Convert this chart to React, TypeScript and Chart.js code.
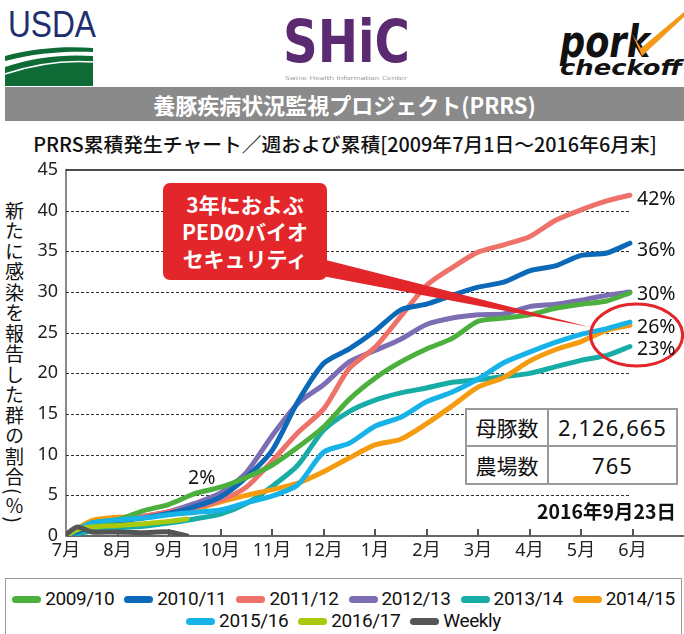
import React, { useEffect, useRef } from 'react';
import { Chart, registerables } from 'chart.js';

Chart.register(...registerables);

// ---------- data ----------
const monthLabels = ['7月', '8月', '9月', '10月', '11月', '12月', '1月', '2月', '3月', '4月', '5月', '6月'];
// x positions (in months since 1 July) of the sampled points
const seasonX = [0, 0.5, 1, 1.5, 2, 2.5, 3, 3.5, 4, 4.5, 5, 5.5, 6, 6.5, 7, 7.5, 8, 8.5, 9, 9.5, 10, 10.5, 10.95];
const partialX = [0, 0.22, 0.5, 1, 1.5, 2, 2.35];

const s2009_10 = [0, 1.6, 2.0, 3.1, 3.9, 5.2, 6.0, 7.2, 8.7, 10.9, 13.4, 16.8, 19.4, 21.4, 23.0, 24.3, 26.4, 26.8, 27.2, 28.0, 28.5, 28.9, 29.9];
const s2010_11 = [0, 1.2, 1.8, 2.2, 2.8, 3.6, 4.8, 7.2, 10.5, 16.5, 21.2, 23.0, 25.2, 27.8, 28.5, 29.6, 30.6, 31.2, 32.6, 33.2, 34.5, 34.8, 36.0];
const s2011_12 = [0, 1.4, 2.0, 2.4, 3.0, 3.5, 4.4, 6.0, 9.2, 12.7, 15.6, 20.6, 23.2, 27.0, 30.8, 33.0, 34.9, 35.8, 36.8, 38.8, 40.1, 41.2, 41.9];
const s2012_13 = [0, 1.2, 1.8, 2.4, 3.0, 4.0, 5.3, 7.8, 12.3, 16.3, 18.6, 21.4, 22.8, 24.2, 26.0, 26.8, 27.2, 27.3, 28.2, 28.5, 29.0, 29.6, 30.0];
const s2013_14 = [0, 0.6, 1.0, 1.2, 1.6, 2.1, 2.7, 4.0, 6.1, 8.7, 13.0, 15.3, 16.7, 17.6, 18.2, 18.9, 19.2, 19.6, 20.0, 20.8, 21.6, 22.2, 23.3];
const s2014_15 = [0, 1.9, 2.3, 2.4, 2.8, 3.3, 4.2, 5.0, 5.7, 6.5, 7.9, 9.6, 11.2, 11.9, 13.8, 16.0, 18.3, 19.5, 21.5, 22.9, 23.9, 25.3, 25.9];
const s2015_16 = [0, 1.6, 2.0, 2.2, 2.6, 2.9, 3.2, 4.1, 4.9, 6.3, 10.3, 11.4, 13.5, 14.6, 16.5, 17.7, 19.3, 21.3, 22.6, 23.8, 24.8, 25.5, 26.3];
const s2016_17 = [0, 0.8, 1.1, 1.3, 1.5, 1.8, 2.1];
const sWeekly = [0.2, 1.1, 0.5, 0.5, 0.4, 0.5, 0.0];

const seriesNames = ['2009/10', '2010/11', '2011/12', '2012/13', '2013/14', '2014/15', '2015/16', '2016/17', 'Weekly'];
const seriesValues = [s2009_10, s2010_11, s2011_12, s2012_13, s2013_14, s2014_15, s2015_16, s2016_17, sWeekly];
const seriesColors = ['#4CAF3E', '#0B69B7', '#EE726A', '#7D6EB4', '#18ACA6', '#F49B10', '#17B3E8', '#A8C90C', '#555555'];
const seriesOrder = [3, 4, 5, 6, 8, 7, 2, 1, 0];

const endLabels = ['42%', '36%', '30%', '26%', '23%'];
const endLabelTops = [186, 237, 281, 314, 336];
const tableRows = [['母豚数', '2,126,665'], ['農場数', '765']];
const calloutLines = ['3年におよぶ', 'PEDのバイオ', 'セキュリティ'];

const NUM_FONT = "'Noto Sans', 'Noto Sans CJK JP', sans-serif";
const JP_FONT = "'Noto Sans CJK JP', 'Noto Sans', sans-serif";
const NARROW_FONT = "'Liberation Sans Narrow', 'Roboto', 'Noto Sans', sans-serif";

const decor = {
  id: 'decor',
  beforeDatasetsDraw(chart: any) {
    const { ctx, chartArea: a, scales } = chart;
    const x = scales.x;
    const y = scales.y;
    ctx.save();
    // dashed horizontal grid
    ctx.strokeStyle = '#333';
    ctx.lineWidth = 1;
    ctx.setLineDash([3, 2]);
    const xe = x.getPixelForValue(10.95);
    for (let v = 5; v < 45; v += 5) {
      const py = Math.round(y.getPixelForValue(v)) + 0.5;
      ctx.beginPath();
      ctx.moveTo(a.left, py);
      ctx.lineTo(xe, py);
      ctx.stroke();
    }
    ctx.setLineDash([]);
    // solid top line
    ctx.strokeStyle = '#111';
    ctx.lineWidth = 1.5;
    const pt = y.getPixelForValue(45);
    ctx.beginPath();
    ctx.moveTo(a.left, pt);
    ctx.lineTo(a.right, pt);
    ctx.stroke();
    // inward tick marks
    ctx.strokeStyle = '#555';
    ctx.lineWidth = 2;
    for (let i = 1; i < monthLabels.length; i++) {
      const px = Math.round(x.getPixelForValue(i));
      ctx.beginPath();
      ctx.moveTo(px, a.bottom);
      ctx.lineTo(px, a.bottom - 7);
      ctx.stroke();
    }
    ctx.restore();
  },
  afterDatasetsDraw(chart: any) {
    const { ctx, scales } = chart;
    const x = scales.x;
    const y = scales.y;
    ctx.save();
    // callout pointer wedge
    ctx.fillStyle = '#E3262A';
    ctx.beginPath();
    ctx.moveTo(x.getPixelForValue(4.95), y.getPixelForValue(34.1));
    ctx.lineTo(x.getPixelForValue(10.17), y.getPixelForValue(25.7));
    ctx.lineTo(x.getPixelForValue(4.95), y.getPixelForValue(32.0));
    ctx.closePath();
    ctx.fill();
    // red ellipse
    ctx.strokeStyle = '#E3262A';
    ctx.lineWidth = 3;
    ctx.beginPath();
    ctx.ellipse(x.getPixelForValue(11.08), y.getPixelForValue(24.7), 46, 31, 0, 0, Math.PI * 2);
    ctx.stroke();
    ctx.restore();
  },
};

export default function App() {
  const ref = useRef<HTMLCanvasElement>(null);

  useEffect(() => {
    const datasets = seriesNames.map((name, i) => {
      const xs = seriesValues[i].length === seasonX.length ? seasonX : partialX;
      return {
        label: name,
        data: seriesValues[i].map((v, j) => ({ x: xs[j], y: v })),
        borderColor: seriesColors[i],
        backgroundColor: seriesColors[i],
        borderWidth: 5,
        pointRadius: 0,
        tension: 0.25,
        borderCapStyle: 'round',
        borderJoinStyle: 'round',
        order: seriesOrder[i],
        fill: false,
      };
    });
    const chart = new Chart(ref.current as HTMLCanvasElement, {
      type: 'line',
      data: { datasets } as any,
      options: {
        animation: false,
        responsive: false,
        maintainAspectRatio: false,
        layout: { padding: { top: 20, left: 0, right: 0, bottom: 0 } },
        plugins: { legend: { display: false }, tooltip: { enabled: false } },
        scales: {
          x: {
            type: 'linear',
            min: 0,
            max: 12,
            afterBuildTicks: (s: any) => {
              s.ticks = monthLabels.map((_, i) => ({ value: i }));
            },
            afterFit: (s: any) => {
              s.height = 34;
            },
            ticks: {
              autoSkip: false,
              maxRotation: 0,
              padding: 4,
              color: '#222',
              font: { family: NUM_FONT, size: 18 },
              callback: (v: any) => monthLabels[v] ?? '',
            },
            grid: { display: false, drawTicks: false },
            border: { display: true, color: '#666', width: 2 },
          },
          y: {
            min: 0,
            max: 45,
            afterFit: (s: any) => {
              s.width = 66;
            },
            ticks: { stepSize: 5, padding: 8, color: '#222', font: { family: NUM_FONT, size: 18 } },
            grid: { display: false, drawTicks: false },
            border: { display: true, color: '#888', width: 2 },
          },
        },
      } as any,
      plugins: [decor],
    });
    return () => chart.destroy();
  }, []);

  const abs = (o: any) => ({ position: 'absolute' as const, ...o });

  return (
    <div style={abs({ left: 0, top: 0, width: 684, height: 634, overflow: 'hidden', background: '#fff', fontFamily: JP_FONT })}>
      {/* logos */}
      <svg width={684} height={86} style={abs({ left: 0, top: 0 })}>
        <text x={8} y={37} fontFamily="'Liberation Sans',sans-serif" fontSize={36} textLength={88} lengthAdjust="spacingAndGlyphs" fill="#202E6E">USDA</text>
        <path d="M5,56 C35,48 65,46 93,48 L93,52 C65,51 35,53 5,61 Z" fill="#0F6B35" />
        <path d="M5,67 C35,57 65,54 93,56 L93,93 L5,93 Z" fill="#0F6B35" />
        <path d="M5,74 C35,64 65,60 93,62" stroke="#fff" strokeWidth={1.5} fill="none" />
        <text x={283} y={62} fontFamily="'DejaVu Sans',sans-serif" fontWeight={900} fontSize={58} textLength={127} lengthAdjust="spacingAndGlyphs" fill="#5C2A70">SHiC</text>
        <text x={285} y={80} fontFamily="'DejaVu Sans',sans-serif" fontSize={5.5} textLength={122} lengthAdjust="spacingAndGlyphs" fill="#9a9a9a">Swine Health Information Center</text>
        <text x={560} y={57} fontFamily="'DejaVu Sans',sans-serif" fontWeight={700} fontStyle="italic" fontSize={44} textLength={90} lengthAdjust="spacingAndGlyphs" fill="#111">pork</text>
        <text x={560} y={75} fontFamily="'DejaVu Sans',sans-serif" fontWeight={700} fontStyle="italic" fontSize={22} textLength={122} lengthAdjust="spacingAndGlyphs" fill="#111">checkoff</text>
        <path d="M632,34 L641,48 L684,12 L684,17 L642,56 Z" fill="#F39A1C" />
      </svg>

      {/* title bar */}
      <div style={abs({ left: 5, top: 87, width: 679, height: 34, background: '#8A8A8A', color: '#fff', fontSize: 22, fontWeight: 700, lineHeight: '34px', textAlign: 'center' })}>
        養豚疾病状況監視プロジェクト(PRRS)
      </div>

      {/* subtitle */}
      <div style={abs({ left: 0, width: 690, top: 131, fontSize: 19.8, lineHeight: '26px', textAlign: 'center', color: '#111', whiteSpace: 'nowrap', fontWeight: 500 })}>
        PRRS累積発生チャート／週および累積[2009年7月1日～2016年6月末]
      </div>

      {/* y axis title */}
      <div style={abs({ left: 5, top: 201, fontSize: 19, lineHeight: '19px', letterSpacing: 1.5, writingMode: 'vertical-rl', textOrientation: 'mixed', color: '#111', whiteSpace: 'nowrap' })}>
        新たに感染を報告した群の割合(％)
      </div>

      {/* chart */}
      <div style={abs({ left: 0, top: 150, width: 684, height: 420 })}>
        <canvas ref={ref} width={684} height={420} style={{ display: 'block', width: 684, height: 420 }} />
      </div>

      {/* callout box */}
      <div style={abs({ left: 163, top: 183, width: 164, height: 97, background: '#E3262A', borderRadius: 7, color: '#fff', fontSize: 21, fontWeight: 700, lineHeight: '27px', textAlign: 'center', paddingTop: 8, boxSizing: 'border-box' })}>
        {calloutLines.map((l) => (
          <div key={l}>{l}</div>
        ))}
      </div>

      {/* end labels */}
      {endLabels.map((l, i) => (
        <div key={l} style={abs({ left: 637, top: endLabelTops[i], fontSize: 19.5, lineHeight: '24px', fontFamily: NUM_FONT, color: '#111' })}>
          {l}
        </div>
      ))}
      <div style={abs({ left: 188, top: 465, fontSize: 19.5, lineHeight: '24px', fontFamily: NUM_FONT, color: '#111' })}>2%</div>

      {/* table */}
      <div style={abs({ left: 465, top: 408, width: 213, height: 77, border: '2px solid #9a9a9a', boxSizing: 'border-box', background: '#fff', display: 'grid', gridTemplateColumns: '82px 1fr', gridTemplateRows: '1fr 1fr' })}>
        {tableRows.map((r, ri) =>
          r.map((c, ci) => (
            <div
              key={ri + '-' + ci}
              style={{
                borderRight: ci === 0 ? '2px solid #9a9a9a' : 'none',
                borderBottom: ri === 0 ? '2px solid #9a9a9a' : 'none',
                display: 'flex',
                alignItems: 'center',
                justifyContent: 'center',
                fontSize: ci === 0 ? 21 : 22,
                letterSpacing: ci === 0 ? 0 : 1,
                fontFamily: ci === 0 ? JP_FONT : NUM_FONT,
                color: '#111',
              }}
            >
              {c}
            </div>
          ))
        )}
      </div>

      {/* date */}
      <div style={abs({ left: 500, width: 176, top: 498, textAlign: 'right', fontSize: 19.5, lineHeight: '26px', fontWeight: 700, color: '#111' })}>
        2016年9月23日
      </div>

      {/* legend */}
      <div style={abs({ left: 5, top: 578, width: 677, height: 70, border: '1px solid #999', boxSizing: 'border-box' })}>
        {[seriesNames.slice(0, 6), seriesNames.slice(6)].map((row, ri) => (
          <div key={ri} style={{ display: 'flex', justifyContent: 'center', gap: 10, height: 22, marginTop: ri === 0 ? 9 : 0, alignItems: 'center' }}>
            {row.map((name) => {
              const idx = seriesNames.indexOf(name);
              return (
                <div key={name} style={{ display: 'flex', alignItems: 'center' }}>
                  <span style={{ display: 'inline-block', width: 29, height: 7, borderRadius: 4, background: seriesColors[idx], marginRight: 4 }} />
                  <span style={{ fontFamily: NARROW_FONT, fontSize: 19, letterSpacing: -0.4, color: '#111', lineHeight: '22px' }}>{name}</span>
                </div>
              );
            })}
          </div>
        ))}
      </div>
    </div>
  );
}
